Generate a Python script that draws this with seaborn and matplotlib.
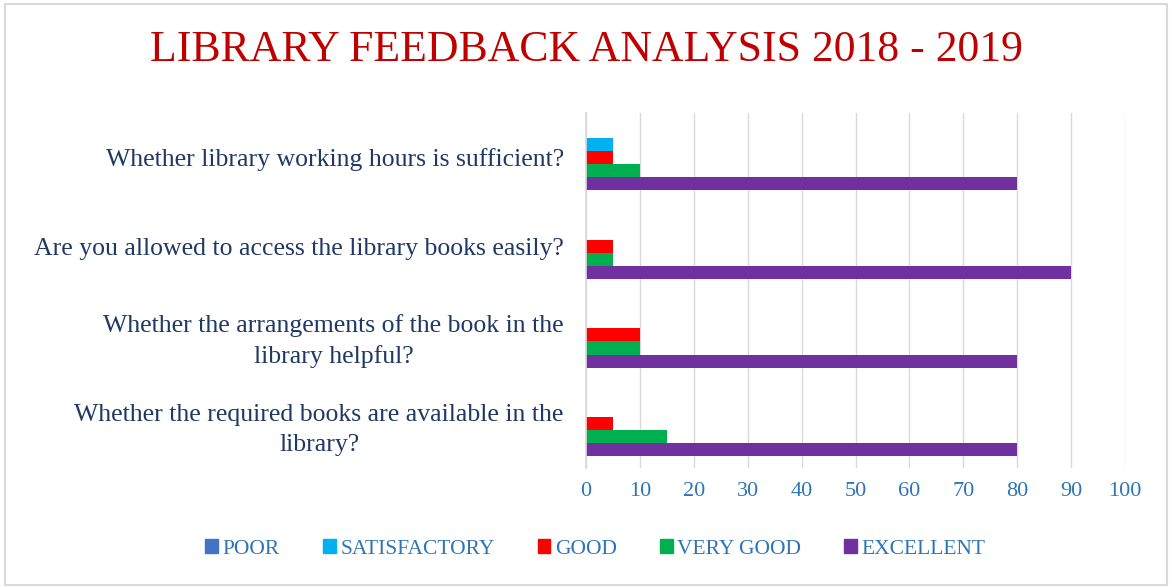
import matplotlib
matplotlib.use("Agg")
import matplotlib.pyplot as plt
import seaborn as sns
import pandas as pd
from matplotlib.patches import Rectangle

questions = [
    "Whether library working hours is sufficient?",
    "Are you allowed to access the library books easily?",
    "Whether the arrangements of the book in the\nlibrary helpful?",
    "Whether the required books are available in the\nlibrary?",
]
ratings = ["POOR", "SATISFACTORY", "GOOD", "VERY GOOD", "EXCELLENT"]
poor = [0, 0, 0, 0]
satisfactory = [5, 0, 0, 0]
good = [5, 5, 10, 5]
very_good = [10, 5, 10, 15]
excellent = [80, 90, 80, 80]
x_ticks = [0, 10, 20, 30, 40, 50, 60, 70, 80, 90, 100]

colors = ["#4472C4", "#00B0F0", "#FF0000", "#00B050", "#7030A0"]

rows = []
for r, vals in zip(ratings, [poor, satisfactory, good, very_good, excellent]):
    for q, v in zip(questions, vals):
        rows.append({"Question": q, "Rating": r, "Value": v})
df = pd.DataFrame(rows)

sns.set_theme(style="white")
plt.rcParams["font.family"] = ["Liberation Serif", "DejaVu Serif"]

fig = plt.figure(figsize=(11.72, 5.87), dpi=100)
ax = fig.add_axes([586 / 1172, 1 - 468 / 587, (1125 - 586) / 1172, (468 - 113) / 587])

sns.barplot(data=df, y="Question", x="Value", hue="Rating", order=questions,
            hue_order=ratings, palette=colors, orient="h", width=0.74,
            saturation=1, ax=ax, legend=False, linewidth=0, edgecolor="none")

ax.set_xlim(0, 100)
ax.set_xticks(x_ticks)
ax.set_xlabel("")
ax.set_ylabel("")
ax.grid(axis="x", color="#d9d9d9", linewidth=1)
ax.set_axisbelow(True)
for s in ["top", "right", "bottom"]:
    ax.spines[s].set_visible(False)
ax.spines["left"].set_color("#d9d9d9")
ax.tick_params(axis="x", colors="#2E75B6", labelsize=16, length=0, pad=10)
ax.tick_params(axis="y", length=0, pad=16)
for lab in ax.get_yticklabels():
    lab.set_color("#1F3864")
    lab.set_fontsize(18.5)
    lab.set_multialignment("center")
    lab.set_linespacing(1.45)

fig.text(0.5, 1 - 50 / 587, "LIBRARY FEEDBACK ANALYSIS 2018 - 2019",
         ha="center", va="center", color="#C00000", fontsize=31.5)

handles = [Rectangle((0, 0), 1, 1, color=c) for c in colors]
fig.legend(handles, ratings, loc="center", bbox_to_anchor=(0.508, 1 - 549 / 587),
           ncol=5, frameon=False, fontsize=15.5, labelcolor="#2E75B6",
           handlelength=0.6, handleheight=0.6, handletextpad=0.2, columnspacing=2.0)

fig.patches.append(Rectangle((0.004, 0.004), 0.992, 0.99, transform=fig.transFigure,
                             fill=False, edgecolor="#d9d9d9", linewidth=1.5))

fig.savefig("out.png", dpi=100, facecolor="white")
